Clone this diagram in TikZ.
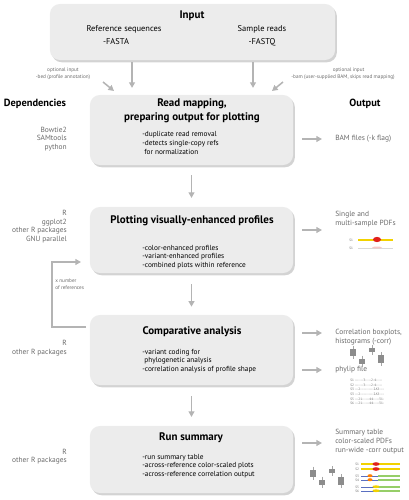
\documentclass[tikz,border=0pt]{standalone}
\usepackage{fontspec}
\setmainfont{PT Sans}
\newfontfamily\phyfont{PT Sans}
\usetikzlibrary{shadows}
\usetikzlibrary{arrows.meta}

\definecolor{boxgray}{HTML}{ECECEC}
\definecolor{arrgray}{HTML}{B4B4B4}
\definecolor{txtgray}{HTML}{6A6A6A}
\definecolor{plotyel}{HTML}{F2D200}
\definecolor{plotred}{HTML}{E0201B}
\definecolor{plotblue}{HTML}{5A6FC0}
\definecolor{plotgrn}{HTML}{7CC242}

\tikzset{
  stagebox/.style={fill=boxgray, rounded corners=7pt, minimum width=5.075cm,
    drop shadow={shadow xshift=1.3pt, shadow yshift=-1.6pt, opacity=0.35}},
  flow/.style={draw=arrgray, line width=1.1pt, -{Triangle[length=4pt,width=4.2pt]}},
  titletxt/.style={font=\bfseries\fontsize{7.8}{10}\selectfont, inner sep=0pt, align=center},
  headtxt/.style={font=\bfseries\fontsize{7.4}{9}\selectfont, inner sep=0pt},
  intxt/.style={font=\fontsize{6}{7}\selectfont, inner sep=0pt},
  bodytxt/.style={font=\fontsize{5.2}{6.2}\selectfont, inner sep=0pt, anchor=west, align=left},
  deptxt/.style={font=\fontsize{5.3}{6}\selectfont, text=txtgray, inner sep=0pt, anchor=east, align=right},
  outtxt/.style={font=\fontsize{5.3}{6.4}\selectfont, text=txtgray, inner sep=0pt, anchor=west, align=left},
  opttxt/.style={font=\fontsize{3.7}{4.8}\selectfont, text=txtgray, inner sep=0pt, align=center},
  tinytxt/.style={font=\fontsize{2.4}{2.4}\selectfont, text=txtgray, inner sep=0pt, anchor=west}
}

\begin{document}
\begin{tikzpicture}[x=0.025cm,y=-0.025cm]
\useasboundingbox (0,0) rectangle (408,500);

% stages
\node[stagebox, minimum width=7.125cm, minimum height=1.4cm] (in) at (192.5,32) {};
\node[stagebox, minimum height=1.75cm] (map) at (191.5,130) {};
\node[stagebox, minimum height=1.65cm] (plot) at (191.5,240) {};
\node[stagebox, minimum height=1.75cm] (cmp) at (191.5,350) {};
\node[stagebox, minimum height=1.675cm] (sum) at (191.5,459.5) {};

% input
\node[titletxt] (intitle) at (192,16) {Input};
\node[intxt] (refseq) at (124,29) {Reference sequences};
\node[intxt] (fasta) at (116,42) {-FASTA};
\node[intxt] (smp) at (262,29) {Sample reads};
\node[intxt] (fastq) at (262,42) {-FASTQ};

\node[opttxt] (bedopt) at (63,74) {optional input\\-bed (profile annotation)};
\node[opttxt] (bamopt) at (343,74) {\hspace*{8pt}optional input\\-bam (user-supplied BAM, skips read mapping)};

% titles and bodies
\node[titletxt] (maptitle) at (192,111) {Read mapping,\\preparing output for plotting};
\node[bodytxt] (mapbody) at (142,143) {-duplicate read removal\\-detects single-copy refs\\\hspace*{1.5pt}for normalization};
\node[titletxt] (plottitle) at (192,221) {Plotting visually-enhanced profiles};
\node[bodytxt, font=\fontsize{5.2}{5.8}\selectfont] (plotbody) at (142,257) {-color-enhanced profiles\\-variant-enhanced profiles\\-combined plots within reference};
\node[titletxt] (cmptitle) at (192,332) {Comparative analysis};
\node[bodytxt] (cmpbody) at (142,361) {-variant coding for\\\hspace*{1.5pt}phylogenetic analysis\\-correlation analysis of profile shape};
\node[titletxt] (sumtitle) at (191,438) {Run summary};
\node[bodytxt] (sumbody) at (142,466) {-run summary table\\-across-reference color-scaled plots\\-across-reference correlation output};

% side columns
\node[headtxt] (dephead) at (35,104) {Dependencies};
\node[headtxt] (outhead) at (365,104) {Output};
\node[deptxt] (mapdep) at (67,139) {Bowtie2\\SAMtools\\python};
\node[deptxt] (plotdep) at (67,226.5) {R\\ggplot2\\other R packages\\GNU parallel};
\node[deptxt] (cmpdep) at (67,348) {R\\other R packages};
\node[deptxt] (sumdep) at (67,456.5) {R\\other R packages};

\node[outtxt] (mapout) at (335,139) {BAM files (-k flag)};
\node[outtxt] (plotout) at (335,219) {Single and\\multi-sample PDFs};
\node[outtxt] (corrout) at (335,337) {Correlation boxplots,\\histograms (-corr)};
\node[outtxt] (phyout) at (335,370) {phylip file};
\node[outtxt] (sumout) at (335,442) {Summary table\\color-scaled PDFs\\run-wide -corr output};

% arrow ends
\coordinate (inL) at (132,0);
\coordinate (inR) at (253,0);
\coordinate (o2) at (322,139);
\coordinate (o3) at (322,230);
\coordinate (o4a) at (322,333);
\coordinate (o4b) at (322,370);
\coordinate (o5) at (322,443);
\coordinate (bedtip) at (114,91);
\coordinate (bedtail) at (103,82);
\coordinate (bamtip) at (272,91);
\coordinate (bamtail) at (283,82);
\coordinate (loopa) at (86,327);
\coordinate (loopx) at (52,0);
\coordinate (loopb) at (81,262);

% connectors
\draw[flow, shorten <=0.05cm, shorten >=0.17cm] (in.south -| inL) -- (map.north -| inL);
\draw[flow, shorten <=0.05cm, shorten >=0.17cm] (in.south -| inR) -- (map.north -| inR);
\draw[flow] (bedtail) -- (bedtip);
\draw[flow] (bamtail) -- (bamtip);
\draw[flow, shorten <=0.25cm, shorten >=0.22cm] (map) -- (plot);
\draw[flow, shorten <=0.28cm, shorten >=0.2cm] (plot) -- (cmp);
\draw[flow, shorten <=0.28cm, shorten >=0.22cm] (cmp) -- (sum);
\foreach \o/\b in {o2/map, o3/plot, o4a/cmp, o4b/cmp, o5/sum}
  \draw[flow, shorten <=0.225cm] (\b.east |- \o) -- (\o);
\draw[flow] (loopa) -- (loopa -| loopx) |- (loopb);
\node[opttxt, anchor=west, align=left] (looplab) at (55,284) {x number\\of references};

% profile thumbnails
\node[tinytxt] (s1a) at (349,240) {S1};
\draw[plotyel, line width=1.4pt] (358,240) -- (393,240);
\fill[plotred] (377,239.5) ellipse (4 and 2.6);
\node[tinytxt] (s1b) at (349,248) {S1};
\draw[black!15, line width=0.5pt] (358,248) -- (393,248);
\fill[plotred!25] (377,247.5) ellipse (5 and 1);

% boxplot thumbnails
\foreach \bx/\by/\bh in {353/352/7, 362/361/5, 372/350/4, 381/359/8}{
  \draw[black!35, line width=0.3pt] (\bx,\by-\bh/2-3) -- (\bx,\by+\bh/2+3);
  \fill[black!45] (\bx-3,\by-\bh/2) rectangle (\bx+3,\by+\bh/2);
}
\foreach \bx/\by/\bh in {313/473/7, 322/482/5, 332/471/4, 341/481/8}{
  \draw[black!35, line width=0.3pt] (\bx,\by-\bh/2-3) -- (\bx,\by+\bh/2+3);
  \fill[black!45] (\bx-3,\by-\bh/2) rectangle (\bx+3,\by+\bh/2);
}

% phylip thumbnail
\foreach \ln/\sq [count=\i] in {S1/-------3-----2-4-----, S2/-------3-----2-4-----,
    S3/---2-----------2A3----, S3/---2-----------2A3----,
    S5/---21------44-----31-, S6/---21------44-----31-}
  \node[tinytxt] (phy\i) at (350,376+4.6*\i) {\phyfont\ln\ \sq};

% summary thumbnails
\foreach \s/\yy in {S1/464, S2/469}{
  \node[tinytxt] at (355,\yy) {\s};
  \draw[plotyel, line width=1.4pt] (361,\yy) -- (400,\yy);
  \fill[plotred] (376,\yy) ellipse (3.5 and 1.8);
}
\foreach \s/\yy in {S3/476, S4/480, S5/487, S6/491}{
  \node[tinytxt] at (355,\yy) {\s};
  \draw[plotblue, line width=0.5pt] (361,\yy) -- (400,\yy);
  \fill[plotgrn!80] (378,\yy-0.7) rectangle (400,\yy+0.7);
}
\foreach \yy in {476,480}
  \fill[orange] (370,\yy-0.3) ellipse (2.5 and 1.5);
\foreach \yy in {487,491}
  \fill[plotyel] (376,\yy-0.3) ellipse (3.5 and 1.4);
\end{tikzpicture}
\end{document}
